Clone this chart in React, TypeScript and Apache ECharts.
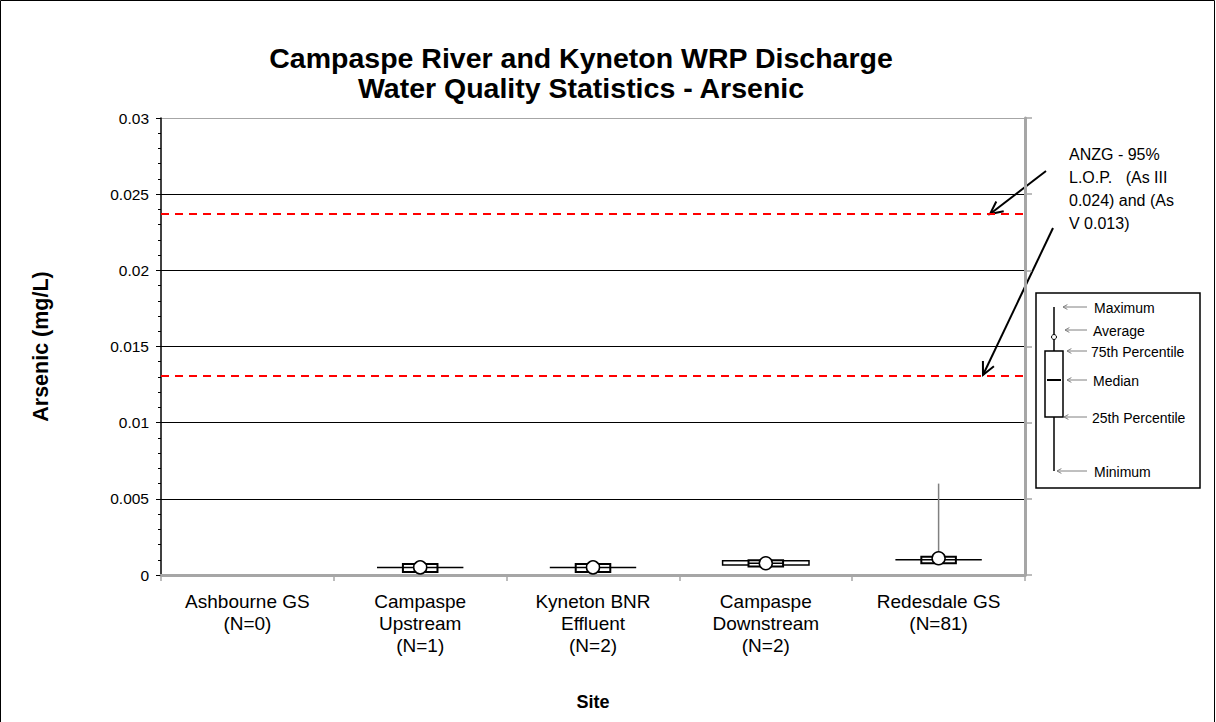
import React, { useEffect, useRef } from "react";
import * as echarts from "echarts";

const FONT = "'Liberation Sans', Arial, sans-serif";

const categories = [
  "Ashbourne GS\n(N=0)",
  "Campaspe\nUpstream\n(N=1)",
  "Kyneton BNR\nEffluent\n(N=2)",
  "Campaspe\nDownstream\n(N=2)",
  "Redesdale GS\n(N=81)",
];
const minVals = [null, 0.0005, 0.0005, 0.0006, 0.001];
const q1Vals = [null, 0.0002, 0.0002, 0.00055, 0.00077];
const medianVals = [null, 0.0005, 0.0005, 0.00077, 0.001];
const q3Vals = [null, 0.00072, 0.00072, 0.00097, 0.0012];
const maxVals = [null, 0.0005, 0.0005, 0.0009, 0.006];
const meanVals = [null, 0.0005, 0.0005, 0.00077, 0.0011];
const markLow = [null, 0.0005, 0.0005, 0.00066, 0.001];
const markHigh = [null, 0.0005, 0.0005, 0.00093, 0.001];
const guidelines = [0.0237, 0.0131];
const yTicks = { min: 0, max: 0.03, interval: 0.005 };

function arrow(x1: number, y1: number, x2: number, y2: number, color: string, width: number, head: number, spread = 0.45) {
  const a = Math.atan2(y2 - y1, x2 - x1);
  return [
    { type: "line", shape: { x1, y1, x2, y2 }, style: { stroke: color, lineWidth: width }, silent: true },
    {
      type: "polyline",
      shape: {
        points: [
          [x2 - head * Math.cos(a - spread), y2 - head * Math.sin(a - spread)],
          [x2, y2],
          [x2 - head * Math.cos(a + spread), y2 - head * Math.sin(a + spread)],
        ],
      },
      style: { stroke: color, lineWidth: width, fill: null },
      silent: true,
    },
  ];
}

function txt(x: number, y: number, text: string, size: number, extra: any = {}) {
  return {
    type: "text",
    x,
    y,
    style: { text, fontFamily: FONT, fontSize: size, fill: "#000", textVerticalAlign: "middle", ...extra },
    silent: true,
  };
}

export default function App() {
  const ref = useRef<HTMLDivElement>(null);
  useEffect(() => {
    const chart = echarts.init(ref.current as HTMLDivElement, null, { renderer: "svg" });
    const boxData: any[] = [];
    categories.forEach((_, i) => {
      if (minVals[i] == null) return;
      boxData.push([i, minVals[i], q1Vals[i], medianVals[i], q3Vals[i], maxVals[i], meanVals[i], markLow[i], markHigh[i]]);
    });

    const legendItems = [
      { label: "Maximum", y: 307, ax: 1063, tx: 1094 },
      { label: "Average", y: 330, ax: 1065, tx: 1093 },
      { label: "75th Percentile", y: 351, ax: 1067, tx: 1091 },
      { label: "Median", y: 380, ax: 1067, tx: 1093 },
      { label: "25th Percentile", y: 417, ax: 1064, tx: 1092 },
      { label: "Minimum", y: 471, ax: 1057, tx: 1094 },
    ];

    const graphic: any[] = [
      { type: "rect", shape: { x: 0.5, y: 0.5, width: 1214, height: 740 }, style: { fill: null, stroke: "#000", lineWidth: 1 }, silent: true },
      txt(581, 58, "Campaspe River and Kyneton WRP Discharge", 28.5, { fontWeight: "bold", textAlign: "center" }),
      txt(581, 88, "Water Quality Statistics - Arsenic", 28.5, { fontWeight: "bold", textAlign: "center" }),
      {
        type: "text",
        x: 1069,
        y: 143,
        style: {
          text: "ANZG - 95%\nL.O.P.   (As III\n0.024) and (As\nV 0.013)",
          fontFamily: FONT,
          fontSize: 16,
          lineHeight: 23,
          fill: "#000",
        },
        silent: true,
      },
      ...arrow(1046, 171, 990, 214, "#000", 2, 14),
      ...arrow(1053, 228, 983, 375, "#000", 2, 14),
      // legend box
      { type: "rect", shape: { x: 1036, y: 293, width: 164, height: 195 }, style: { fill: "#fff", stroke: "#000", lineWidth: 1.5 }, silent: true },
      { type: "line", shape: { x1: 1054, y1: 307, x2: 1054, y2: 471 }, style: { stroke: "#000", lineWidth: 1.5 }, silent: true },
      { type: "rect", shape: { x: 1045, y: 351, width: 18, height: 66 }, style: { fill: "#fff", stroke: "#000", lineWidth: 1.5 }, silent: true },
      { type: "line", shape: { x1: 1047, y1: 380, x2: 1061, y2: 380 }, style: { stroke: "#000", lineWidth: 2 }, silent: true },
      { type: "circle", shape: { cx: 1054, cy: 337, r: 2.5 }, style: { fill: "#fff", stroke: "#000", lineWidth: 1 }, silent: true },
    ];
    legendItems.forEach((it) => {
      graphic.push(...arrow(1087, it.y, it.ax, it.y, "#808080", 1, 5, 0.5));
      graphic.push(txt(it.tx, it.y + 1, it.label, 14));
    });

    const option: any = {
      animation: false,
      backgroundColor: "#fff",
      textStyle: { fontFamily: FONT },
      grid: { left: 161, top: 118, width: 864, height: 457, containLabel: false },
      xAxis: [
        {
          type: "category",
          data: categories,
          boundaryGap: true,
          axisLine: { lineStyle: { color: "#a6a6a6", width: 3 } },
          axisTick: { show: true, length: 6, lineStyle: { color: "#a6a6a6", width: 1.5 } },
          axisLabel: { color: "#000", fontSize: 19, lineHeight: 22, margin: 15, fontFamily: FONT, interval: 0 },
          splitLine: { show: false },
          name: "Site",
          nameLocation: "middle",
          nameGap: 118,
          nameTextStyle: { color: "#000", fontSize: 18, fontWeight: "bold", fontFamily: FONT },
        },
        {
          type: "category",
          position: "top",
          data: categories,
          axisLine: { lineStyle: { color: "#a6a6a6", width: 2 } },
          axisTick: { show: false },
          axisLabel: { show: false },
        },
      ],
      yAxis: [
        {
          type: "value",
          min: yTicks.min,
          max: yTicks.max,
          interval: yTicks.interval,
          axisLine: { show: true, lineStyle: { color: "#000", width: 1.5 } },
          axisTick: { show: true, length: 5, lineStyle: { color: "#000" } },
          minorTick: { show: true, splitNumber: 5, length: 3, lineStyle: { color: "#000" } },
          axisLabel: { color: "#000", fontSize: 15.5, margin: 12, fontFamily: FONT },
          splitLine: {
            show: true,
            lineStyle: { color: ["#a6a6a6", "#000", "#000", "#000", "#000", "#000", "#a6a6a6"], width: 1 },
          },
          name: "Arsenic (mg/L)",
          nameLocation: "middle",
          nameGap: 109,
          nameRotate: 90,
          nameTextStyle: { color: "#000", fontSize: 21.5, fontWeight: "bold", fontFamily: FONT },
        },
        {
          type: "value",
          position: "right",
          min: yTicks.min,
          max: yTicks.max,
          interval: yTicks.interval,
          axisLine: { show: true, lineStyle: { color: "#a6a6a6", width: 3 } },
          axisTick: { show: true, length: 7, lineStyle: { color: "#a6a6a6", width: 1.5 } },
          axisLabel: { show: false },
          splitLine: { show: false },
        },
      ],
      series: [
        {
          type: "line",
          data: [],
          silent: true,
          markLine: {
            silent: true,
            symbol: "none",
            precision: 5,
            label: { show: false },
            lineStyle: { color: "#ff0000", type: [8, 6], width: 2 },
            data: guidelines.map((v) => ({ yAxis: v })),
          },
        },
        {
          type: "custom",
          data: boxData,
          encode: { x: 0, y: [1, 2, 3, 4, 5, 6, 7, 8] },
          z: 5,
          renderItem: (params: any, api: any) => {
            const i = api.value(0);
            const mn = api.value(1);
            const q1 = api.value(2);
            const med = api.value(3);
            const q3 = api.value(4);
            const mx = api.value(5);
            const mean = api.value(6);
            const lo = api.value(7);
            const hi = api.value(8);
            const band = api.size([1, 0])[0];
            const x = api.coord([i, 0])[0];
            const y = (v: number) => api.coord([i, v])[1];
            const wideW = band * 0.5;
            const boxW = band * 0.2;
            return {
              type: "group",
              children: [
                { type: "line", shape: { x1: x, y1: y(mn), x2: x, y2: y(mx) }, style: { stroke: "#808080", lineWidth: 1.5 } },
                {
                  type: "rect",
                  shape: { x: x - wideW / 2, y: y(hi), width: wideW, height: Math.max(y(lo) - y(hi), 0) },
                  style: { fill: "#fff", stroke: "#000", lineWidth: 1.5 },
                },
                {
                  type: "rect",
                  shape: { x: x - boxW / 2, y: y(q3), width: boxW, height: y(q1) - y(q3) },
                  style: { fill: "#fff", stroke: "#000", lineWidth: 2 },
                },
                { type: "line", shape: { x1: x - boxW / 2, y1: y(med), x2: x + boxW / 2, y2: y(med) }, style: { stroke: "#000", lineWidth: 1.5 } },
                { type: "circle", shape: { cx: x, cy: y(mean), r: 6.5 }, style: { fill: "#fff", stroke: "#000", lineWidth: 1.5 } },
              ],
            };
          },
        },
      ],
      graphic,
    };
    chart.setOption(option);
    return () => chart.dispose();
  }, []);
  return <div ref={ref} style={{ position: "fixed", left: 0, top: 0, width: 1216, height: 722, background: "#fff" }} />;
}
